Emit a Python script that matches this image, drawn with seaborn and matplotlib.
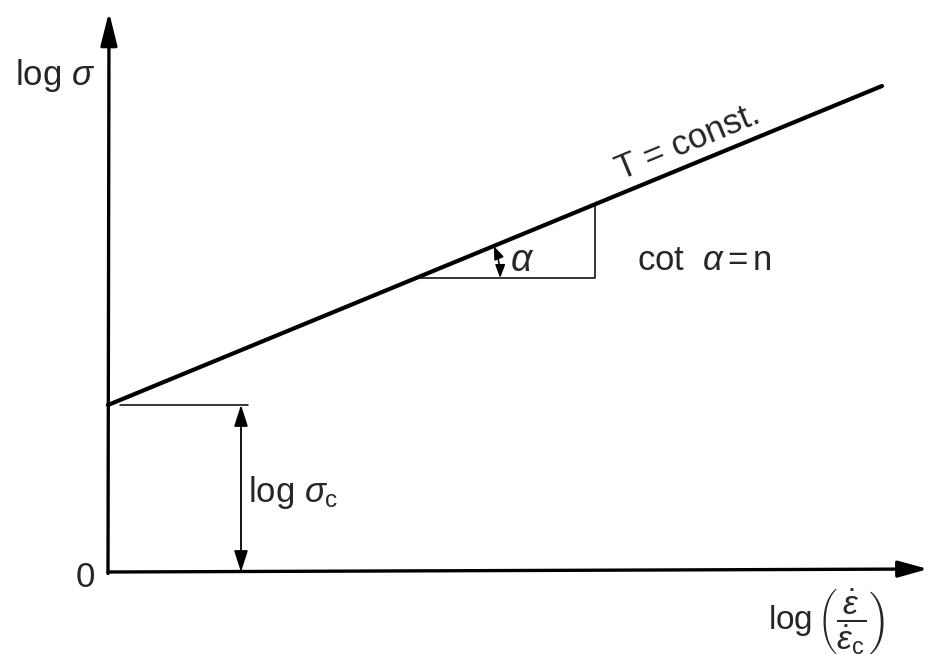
import matplotlib
matplotlib.use("Agg")
import matplotlib.pyplot as plt
import numpy as np
import pandas as pd
import seaborn as sns

# Schematic: log stress vs. log normalised strain rate at constant temperature
log_rate = [0.0, 7.74]          # log(eps_dot / eps_dot_c)
log_stress = [1.67, 4.86]       # log(sigma)
log_sigma_c = 1.67              # intercept at zero rate
tri_y = 2.94                    # base of slope triangle
tri_x_right = 4.87              # vertical leg of slope triangle
x_axis_end = 8.20
y_axis_end = 5.60

sns.set_theme(style="white")
plt.rcParams["font.family"] = ["Liberation Sans", "DejaVu Sans"]
plt.rcParams["mathtext.fontset"] = "custom"
plt.rcParams["mathtext.rm"] = "Liberation Sans"
plt.rcParams["mathtext.it"] = "Liberation Sans:italic"
plt.rcParams["mathtext.bf"] = "Liberation Sans:bold"

fig = plt.figure(figsize=(9.29, 6.60), dpi=100)
ax = fig.add_axes([0, 0, 1, 1])
ax.set_xlim(-1.08, 8.21)
ax.set_ylim(-0.88, 5.72)
ax.axis("off")

df = pd.DataFrame({"rate": log_rate, "stress": log_stress})
sns.lineplot(data=df, x="rate", y="stress", ax=ax, color="black", lw=3.0)

slope = (log_stress[1] - log_stress[0]) / (log_rate[1] - log_rate[0])
angle = np.degrees(np.arctan(slope))

# coordinate axes with arrow heads
ax.annotate("", xy=(x_axis_end, 0.03), xytext=(0, 0),
            arrowprops=dict(arrowstyle="-|>,head_length=0.9,head_width=0.25",
                            mutation_scale=20, lw=2.4, color="black",
                            shrinkA=0, shrinkB=0))
ax.annotate("", xy=(0.01, y_axis_end), xytext=(0, -0.015),
            arrowprops=dict(arrowstyle="-|>,head_length=1.0,head_width=0.25",
                            mutation_scale=20, lw=2.4, color="black",
                            shrinkA=0, shrinkB=0))

# intercept log sigma_c
ax.plot([0.12, 1.40], [log_sigma_c, log_sigma_c], color="black", lw=1.1)
ax.annotate("", xy=(1.33, log_sigma_c), xytext=(1.33, 0),
            arrowprops=dict(arrowstyle="<|-|>,head_length=1.3,head_width=0.42",
                            mutation_scale=10, lw=1.3, color="black",
                            shrinkA=0, shrinkB=0))

# slope triangle
x_left = log_rate[0] + (tri_y - log_stress[0]) / slope
y_top = log_stress[0] + slope * (tri_x_right - log_rate[0])
ax.plot([x_left, tri_x_right, tri_x_right], [tri_y, tri_y, y_top],
        color="black", lw=1.1)

# angle arc
r = 0.84
a = np.radians(angle)
ax.annotate("", xy=(x_left + r * np.cos(a), tri_y + r * np.sin(a)),
            xytext=(x_left + r, tri_y),
            arrowprops=dict(arrowstyle="<|-|>,head_length=0.8,head_width=0.3",
                            mutation_scale=10, lw=1.1, color="black",
                            shrinkA=0, shrinkB=0,
                            connectionstyle="arc3,rad=0.1"))

fs = 25
ax.text(-0.13, 4.87, r"log $\sigma$", ha="right", va="baseline", fontsize=fs)
ax.text(-0.13, -0.15, "0", ha="right", va="baseline", fontsize=fs)
ax.text(1.40, 0.70, r"log $\sigma_{\rm c}$", ha="left", va="baseline", fontsize=fs)
ax.text(4.02, 3.01, r"$\alpha$", ha="left", va="baseline", fontsize=fs + 2)
ax.text(5.29, 3.02, r"cot  $\alpha\,$=$\,$n", ha="left", va="baseline", fontsize=fs)
ax.text(5.13, 3.92, "T = const.", ha="left", va="baseline", fontsize=fs,
        rotation=angle, rotation_mode="anchor")
ax.text(6.60, -0.50,
        r"log$\,\left(\dfrac{\dot{\epsilon}}{\dot{\epsilon}_{\rm c}}\right)$",
        ha="left", va="center", fontsize=fs - 1)

fig.savefig("out.png", dpi=100, facecolor="white")
